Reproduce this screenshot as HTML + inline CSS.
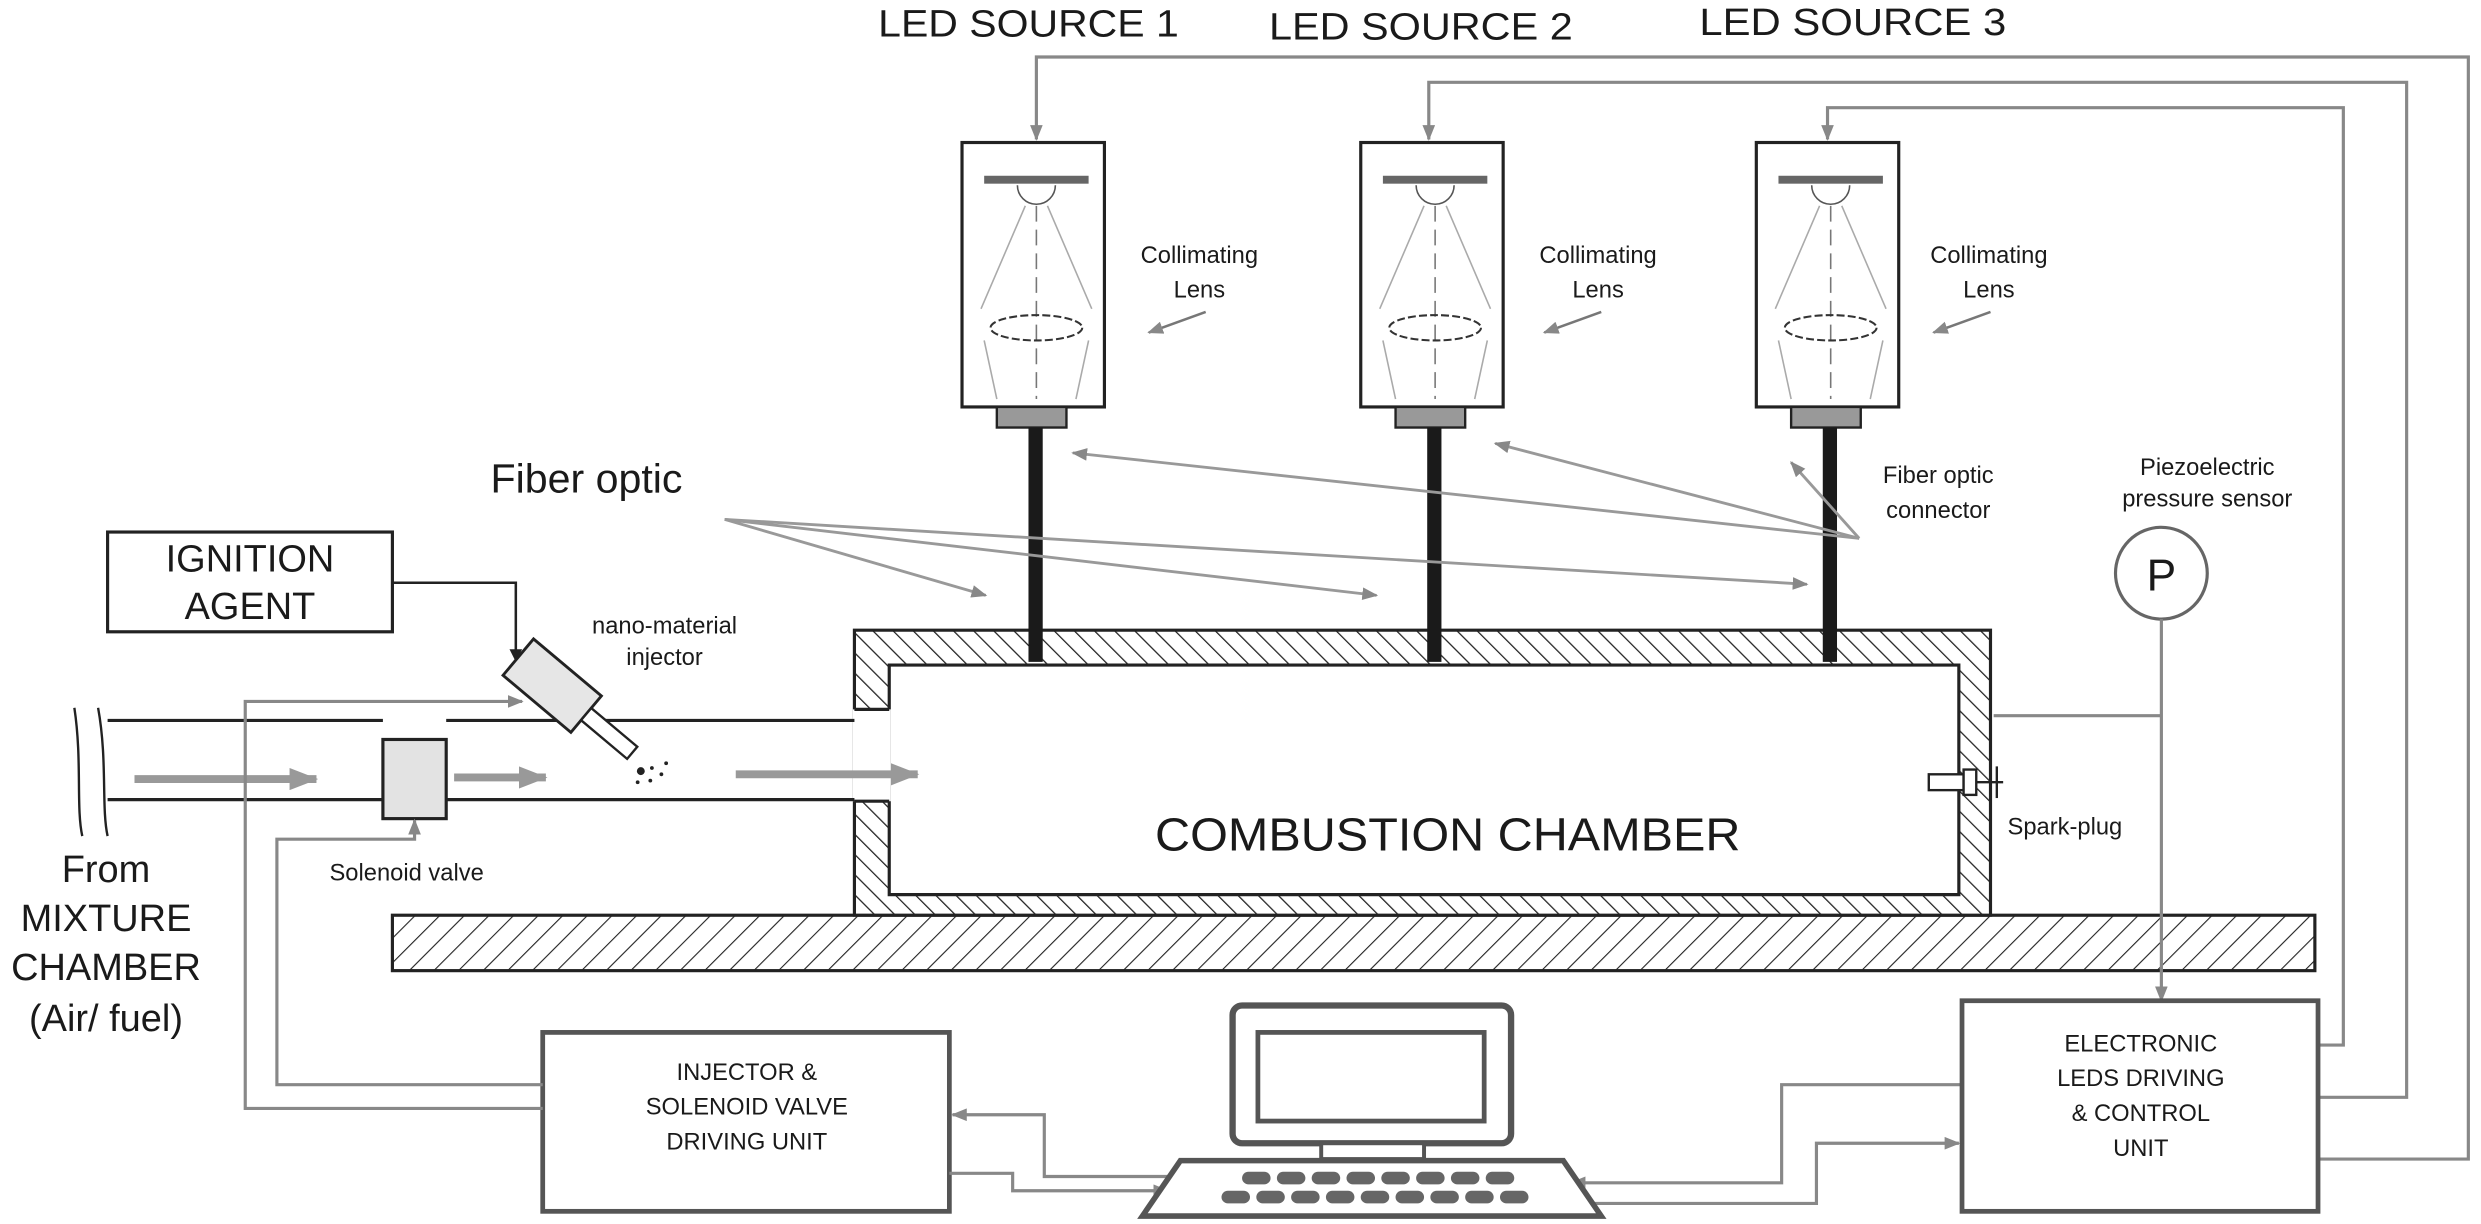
<!DOCTYPE html>
<html><head><meta charset="utf-8"><style>html,body{margin:0;padding:0;background:#fff}svg{display:block}</style></head>
<body>
<svg width="2481" height="1224" viewBox="0 0 1568 773" preserveAspectRatio="none" xmlns="http://www.w3.org/2000/svg" font-family="Liberation Sans, sans-serif">
<defs>
<pattern id="h1" patternUnits="userSpaceOnUse" width="9" height="9" patternTransform="rotate(-45)"><rect width="9" height="9" fill="#fff"/><line x1="0" y1="0" x2="0" y2="9" stroke="#222" stroke-width="1.6"/></pattern>
<pattern id="h2" patternUnits="userSpaceOnUse" width="11" height="11" patternTransform="rotate(45)"><rect width="11" height="11" fill="#fff"/><line x1="0" y1="0" x2="0" y2="11" stroke="#222" stroke-width="1.4"/></pattern>
<marker id="ag" markerWidth="10" markerHeight="8" refX="9" refY="4" orient="auto" markerUnits="userSpaceOnUse"><path d="M0,0 L10,4 L0,8 Z" fill="#888"/></marker>
<marker id="ab" markerWidth="8" markerHeight="8" refX="7" refY="4" orient="auto" markerUnits="userSpaceOnUse"><path d="M0,0 L8,4 L0,8 Z" fill="#222"/></marker>
<marker id="big" markerWidth="18" markerHeight="14" refX="17" refY="7" orient="auto" markerUnits="userSpaceOnUse"><path d="M0,0 L18,7 L0,14 Z" fill="#999"/></marker>
<g id="led">
<rect x="0" y="0" width="90" height="167" fill="#fff" stroke="#222" stroke-width="2"/>
<rect x="14" y="21" width="66" height="5" fill="#666"/>
<path d="M35,27 A12,12 0 0 0 59,27" fill="none" stroke="#555" stroke-width="1"/>
<line x1="47" y1="40" x2="47" y2="162" stroke="#777" stroke-width="1" stroke-dasharray="10,5"/>
<line x1="40" y1="40" x2="12" y2="105" stroke="#aaa"/><line x1="54" y1="40" x2="82" y2="105" stroke="#aaa"/>
<line x1="14" y1="125" x2="22" y2="162" stroke="#aaa"/><line x1="80" y1="125" x2="72" y2="162" stroke="#aaa"/>
<ellipse cx="47" cy="117" rx="29" ry="8" fill="none" stroke="#333" stroke-width="1.3" stroke-dasharray="5,2"/>
<rect x="22" y="167" width="44" height="13" fill="#999" stroke="#222" stroke-width="1.5"/>
<rect x="42" y="180" width="9" height="148" fill="#1a1a1a"/>
</g>
</defs>
<rect width="1568" height="773" fill="#fff"/>

<g font-size="24" fill="#1a1a1a">
<text x="555" y="23" textLength="190" lengthAdjust="spacingAndGlyphs">LED SOURCE 1</text>
<text x="802" y="25" textLength="192" lengthAdjust="spacingAndGlyphs">LED SOURCE 2</text>
<text x="1074" y="22" textLength="194" lengthAdjust="spacingAndGlyphs">LED SOURCE 3</text>
</g>

<g fill="none" stroke="#888" stroke-width="2">
<path d="M1465,732 L1560,732 L1560,36 L655,36 L655,88" marker-end="url(#ag)"/>
<path d="M1465,693 L1521,693 L1521,52 L903,52 L903,88" marker-end="url(#ag)"/>
<path d="M1465,660 L1481,660 L1481,68 L1155,68 L1155,88" marker-end="url(#ag)"/>
</g>

<rect x="248" y="578" width="1215" height="35" fill="url(#h2)" stroke="#222" stroke-width="2"/>
<path d="M540,398 H1258 V578 H540 Z M562,420 V565 H1238 V420 Z" fill="url(#h1)" fill-rule="evenodd" stroke="#222" stroke-width="2"/>
<rect x="539" y="448" width="24" height="58" fill="#fff"/>
<line x1="540" y1="448" x2="562" y2="448" stroke="#222" stroke-width="2"/>
<line x1="540" y1="506" x2="562" y2="506" stroke="#222" stroke-width="2"/>
<text x="915" y="537" font-size="29" text-anchor="middle" fill="#1a1a1a" textLength="370" lengthAdjust="spacingAndGlyphs">COMBUSTION CHAMBER</text>

<use href="#led" x="608" y="90"/>
<use href="#led" x="860" y="90"/>
<use href="#led" x="1110" y="90"/>

<g font-size="15" fill="#1a1a1a" text-anchor="middle">
<text x="758" y="166">Collimating</text><text x="758" y="188">Lens</text>
<text x="1010" y="166">Collimating</text><text x="1010" y="188">Lens</text>
<text x="1257" y="166">Collimating</text><text x="1257" y="188">Lens</text>
<text x="1225" y="305">Fiber optic</text><text x="1225" y="327">connector</text>
<text x="1395" y="300">Piezoelectric</text><text x="1395" y="320">pressure sensor</text>
<text x="420" y="400">nano-material</text><text x="420" y="420">injector</text>
<text x="257" y="556">Solenoid valve</text>
<text x="1305" y="527">Spark-plug</text>
</g>
<g stroke="#777" stroke-width="1.6" fill="none">
<line x1="762" y1="197" x2="726" y2="210" marker-end="url(#ag)"/>
<line x1="1012" y1="197" x2="976" y2="210" marker-end="url(#ag)"/>
<line x1="1258" y1="197" x2="1222" y2="210" marker-end="url(#ag)"/>
</g>

<text x="310" y="311" font-size="26" fill="#1a1a1a">Fiber optic</text>
<g stroke="#999" stroke-width="1.8" fill="none">
<line x1="458" y1="328" x2="623" y2="376" marker-end="url(#ag)"/>
<line x1="458" y1="328" x2="870" y2="376" marker-end="url(#ag)"/>
<line x1="458" y1="328" x2="1142" y2="369" marker-end="url(#ag)"/>
<line x1="1175" y1="340" x2="678" y2="286" marker-end="url(#ag)"/>
<line x1="1175" y1="340" x2="945" y2="280" marker-end="url(#ag)"/>
<line x1="1175" y1="340" x2="1132" y2="292" marker-end="url(#ag)"/>
</g>

<circle cx="1366" cy="362" r="29" fill="#fff" stroke="#666" stroke-width="2"/>
<text x="1366" y="373" font-size="28" text-anchor="middle" fill="#1a1a1a">P</text>
<g stroke="#888" stroke-width="2" fill="none">
<line x1="1366" y1="391" x2="1366" y2="632" marker-end="url(#ag)"/>
<line x1="1260" y1="452" x2="1366" y2="452"/>
</g>
<g stroke="#222" stroke-width="1.5" fill="#fff">
<rect x="1219" y="489" width="22" height="10"/><rect x="1241" y="486" width="8" height="16"/><line x1="1249" y1="494" x2="1266" y2="494"/><line x1="1262" y1="484" x2="1262" y2="504"/>
</g>

<g stroke="#222" stroke-width="2" fill="none">
<line x1="68" y1="455" x2="242" y2="455"/><line x1="68" y1="505" x2="242" y2="505"/>
<line x1="282" y1="455" x2="540" y2="455"/><line x1="282" y1="505" x2="540" y2="505"/>
<path d="M47,447 C52,480 48,510 52,528" stroke-width="1.5"/>
<path d="M62,447 C68,480 64,510 68,528" stroke-width="1.5"/>
</g>
<g stroke="#999" stroke-width="5" fill="none">
<line x1="85" y1="492" x2="200" y2="492" marker-end="url(#big)"/>
<line x1="287" y1="491" x2="345" y2="491" marker-end="url(#big)"/>
<line x1="465" y1="489" x2="580" y2="489" marker-end="url(#big)"/>
</g>
<rect x="242" y="467" width="40" height="50" fill="#e3e3e3" stroke="#222" stroke-width="2"/>

<g transform="translate(349,433) rotate(40)">
<rect x="-28" y="-15" width="56" height="30" fill="#e6e6e6" stroke="#222" stroke-width="1.8"/>
<rect x="28" y="-5" width="38" height="10" fill="#fff" stroke="#222" stroke-width="1.5"/>
</g>
<g fill="#222"><circle cx="405" cy="487" r="2.5"/><circle cx="412" cy="485" r="1.2"/><circle cx="418" cy="489" r="1.2"/><circle cx="403" cy="494" r="1.2"/><circle cx="411" cy="493" r="1.2"/><circle cx="421" cy="482" r="1.2"/></g>

<rect x="68" y="336" width="180" height="63" fill="#fff" stroke="#222" stroke-width="2"/>
<g font-size="24" fill="#1a1a1a" text-anchor="middle"><text x="158" y="361">IGNITION</text><text x="158" y="391">AGENT</text></g>
<path d="M248,368 L326,368 L326,417" fill="none" stroke="#222" stroke-width="1.6" marker-end="url(#ab)"/>

<g font-size="24" fill="#1a1a1a" text-anchor="middle">
<text x="67" y="557">From</text><text x="67" y="588">MIXTURE</text><text x="67" y="619">CHAMBER</text><text x="67" y="651">(Air/ fuel)</text>
</g>

<rect x="343" y="652" width="257" height="113" fill="#fff" stroke="#555" stroke-width="3"/>
<g font-size="15" fill="#1a1a1a" text-anchor="middle"><text x="472" y="682">INJECTOR &amp;</text><text x="472" y="704">SOLENOID VALVE</text><text x="472" y="726">DRIVING UNIT</text></g>
<g stroke="#888" stroke-width="2" fill="none">
<path d="M343,685 L175,685 L175,530 L262,530 L262,518" marker-end="url(#ag)"/>
<path d="M343,700 L155,700 L155,443 L330,443" marker-end="url(#ag)"/>
<path d="M745,743 L660,743 L660,704 L602,704" marker-end="url(#ag)"/>
<path d="M600,741 L640,741 L640,752 L738,752" marker-end="url(#ag)"/>
<path d="M1240,685 L1126,685 L1126,747 L993,747" marker-end="url(#ag)"/>
<path d="M1003,760 L1148,760 L1148,722 L1238,722" marker-end="url(#ag)"/>
</g>

<rect x="779" y="635" width="176" height="87" rx="6" fill="#fff" stroke="#555" stroke-width="4"/>
<rect x="795" y="652" width="143" height="56" fill="#fff" stroke="#555" stroke-width="3"/>
<rect x="835" y="722" width="65" height="10" fill="#fff" stroke="#555" stroke-width="2.5"/>
<path d="M746,733 L988,733 L1012,768 L722,768 Z" fill="#fff" stroke="#555" stroke-width="3.5"/>
<g fill="#666">
<rect x="785" y="740" width="18" height="8" rx="4"/><rect x="807" y="740" width="18" height="8" rx="4"/><rect x="829" y="740" width="18" height="8" rx="4"/><rect x="851" y="740" width="18" height="8" rx="4"/><rect x="873" y="740" width="18" height="8" rx="4"/><rect x="895" y="740" width="18" height="8" rx="4"/><rect x="917" y="740" width="18" height="8" rx="4"/><rect x="939" y="740" width="18" height="8" rx="4"/>
<rect x="772" y="752" width="18" height="8" rx="4"/><rect x="794" y="752" width="18" height="8" rx="4"/><rect x="816" y="752" width="18" height="8" rx="4"/><rect x="838" y="752" width="18" height="8" rx="4"/><rect x="860" y="752" width="18" height="8" rx="4"/><rect x="882" y="752" width="18" height="8" rx="4"/><rect x="904" y="752" width="18" height="8" rx="4"/><rect x="926" y="752" width="18" height="8" rx="4"/><rect x="948" y="752" width="18" height="8" rx="4"/>
</g>

<rect x="1240" y="632" width="225" height="133" fill="#fff" stroke="#555" stroke-width="3"/>
<g font-size="15" fill="#1a1a1a" text-anchor="middle"><text x="1353" y="664">ELECTRONIC</text><text x="1353" y="686">LEDS DRIVING</text><text x="1353" y="708">&amp; CONTROL</text><text x="1353" y="730">UNIT</text></g>
</svg>
</body></html>
